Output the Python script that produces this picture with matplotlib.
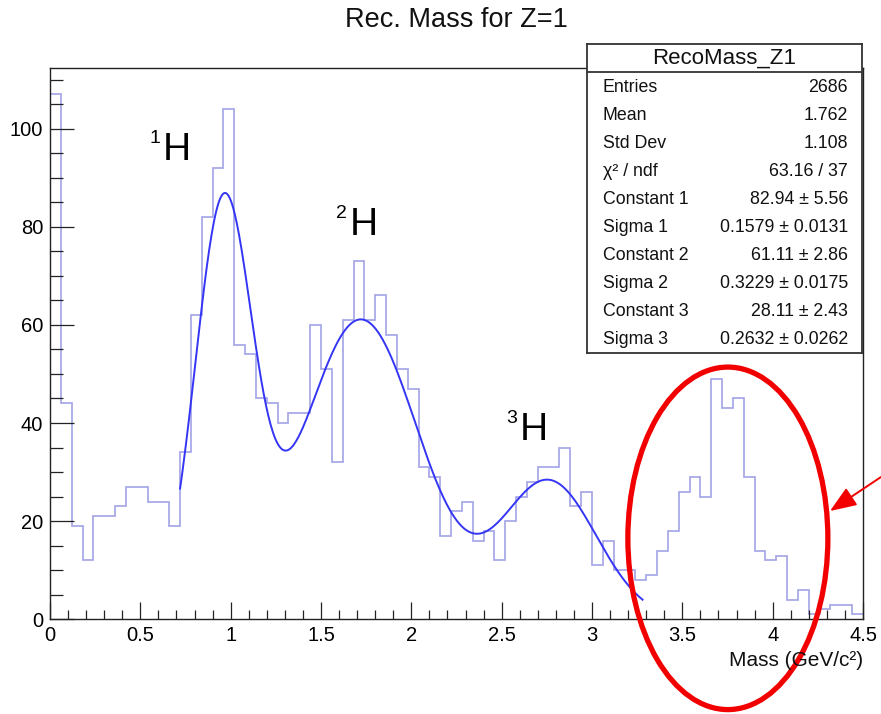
import numpy as np
import matplotlib
matplotlib.use("Agg")
import matplotlib.pyplot as plt
from matplotlib.patches import Ellipse
from matplotlib.ticker import MultipleLocator

plt.rcParams['font.family'] = ['Liberation Sans', 'DejaVu Sans']

# Histogram: 75 bins of 0.06 GeV/c^2 from 0 to 4.5
bin_lo, bin_hi, n_bins = 0.0, 4.5, 75
counts = [
    107, 44, 19, 12, 21, 21, 23, 27, 27, 24,
    24, 19, 34, 62, 82, 92, 104, 56, 54, 45,
    44, 40, 42, 42, 60, 51, 32, 61, 73, 61,
    66, 58, 51, 47, 31, 29, 17, 22, 24, 16,
    18, 12, 20, 25, 28, 31, 31, 35, 23, 26,
    11, 16, 10, 10, 8, 9, 14, 18, 26, 29,
    25, 49, 43, 45, 29, 14, 12, 13, 4, 6,
    1, 2, 3, 3, 1,
]

# Triple-gaussian fit results
fit_const = [82.94, 61.11, 28.11]
fit_mean = [0.96, 1.72, 2.76]
fit_sigma = [0.1579, 0.3229, 0.2632]
fit_range = (0.72, 3.28)

# Statistics box
stats_title = "RecoMass_Z1"
stats_names = ["Entries", "Mean", "Std Dev", "\u03c7\u00b2 / ndf",
               "Constant 1", "Sigma 1", "Constant 2", "Sigma 2",
               "Constant 3", "Sigma 3"]
stats_values = ["2686", "1.762", "1.108", "63.16 / 37",
                "82.94 \u00b1 5.56", "0.1579 \u00b1 0.0131",
                "61.11 \u00b1 2.86", "0.3229 \u00b1 0.0175",
                "28.11 \u00b1 2.43", "0.2632 \u00b1 0.0262"]

# Isotope labels: (mass number, label x, label y)
isotopes = [("1", 0.625, 93.7), ("2", 1.660, 78.4), ("3", 2.601, 36.6)]

W, H = 881, 714
fig = plt.figure(figsize=(W / 100, H / 100), dpi=100)
fig.patch.set_facecolor("white")


def fx(px):
    return px / W


def fy(py):
    return 1 - py / H


ax_l, ax_r, ax_t, ax_b = 50, 863, 68, 619.3
ax = fig.add_axes([fx(ax_l), fy(ax_b), fx(ax_r - ax_l), (ax_b - ax_t) / H])

edges = np.linspace(bin_lo, bin_hi, n_bins + 1)
ax.stairs(counts, edges, color="#a3a3e8", lw=1.2, baseline=None)


def triple_gauss(x):
    y = np.zeros_like(x)
    for c, m, s in zip(fit_const, fit_mean, fit_sigma):
        y += c * np.exp(-0.5 * ((x - m) / s) ** 2)
    return y


xf = np.linspace(fit_range[0], fit_range[1], 400)
ax.plot(xf, triple_gauss(xf), color="#3535f5", lw=1.4)

ax.set_xlim(bin_lo, bin_hi)
ax.set_ylim(0, 1.05 * max(counts))

ax.xaxis.set_major_locator(MultipleLocator(0.5))
ax.xaxis.set_minor_locator(MultipleLocator(0.1))
ax.yaxis.set_major_locator(MultipleLocator(20))
ax.yaxis.set_minor_locator(MultipleLocator(5))
ax.set_xticks(np.arange(0, 4.51, 0.5))
ax.set_xticklabels(["0", "0.5", "1", "1.5", "2", "2.5", "3", "3.5", "4", "4.5"])
ax.tick_params(axis="x", which="major", direction="in", length=12, width=0.9,
               color="#222222", labelsize=14.5, pad=5)
ax.tick_params(axis="x", which="minor", direction="in", length=6.3, width=0.9,
               color="#222222")
ax.tick_params(axis="y", which="major", direction="in", length=17, width=0.9,
               color="#222222", labelsize=14.5, pad=5)
ax.tick_params(axis="y", which="minor", direction="in", length=9, width=0.9,
               color="#222222")
for sp in ax.spines.values():
    sp.set_color("#222222")
    sp.set_linewidth(1.0)

fig.text(fx(863), fy(660), "Mass (GeV/c\u00b2)", ha="right", va="center",
         fontsize=15, color="#111111")
fig.text(fx(456), fy(20), "Rec. Mass for Z=1", ha="center", va="center",
         fontsize=19.5, color="#111111")

# Isotope labels
for a, x0, y0 in isotopes:
    ax.text(x0, y0, "H", ha="left", va="baseline", fontsize=28, color="black")
    ax.text(x0 - 0.015, y0 + 3.4, a, ha="right", va="baseline",
            fontsize=14, color="black")

# Statistics box
sb_l, sb_r, sb_t, sb_b = 587, 862, 44, 353
sb = fig.add_axes([fx(sb_l), fy(sb_b), fx(sb_r - sb_l), (sb_b - sb_t) / H])
sb.set_xticks([])
sb.set_yticks([])
sb.set_xlim(0, 1)
sb.set_ylim(0, 1)
sb.set_facecolor("white")
for sp in sb.spines.values():
    sp.set_color("#333333")
    sp.set_linewidth(1.3)
sbh = sb_b - sb_t


def sy(py):
    return (sb_b - py) / sbh


sb.axhline(sy(72), color="#333333", lw=1.3)
sb.text(0.5, sy(58), stats_title, ha="center", va="center", fontsize=16,
        color="#111111")
for i, (n, v) in enumerate(zip(stats_names, stats_values)):
    yy = sy(88 + 28 * i)
    sb.text(0.058, yy, n, ha="left", va="center", fontsize=12.8, color="#111111")
    sb.text(0.949, yy, v, ha="right", va="center", fontsize=12.8, color="#111111")

# Highlight of the high-mass structure
ell = Ellipse((3.752, 16.5), width=1.107, height=69.8, fill=False,
              edgecolor="#f20000", lw=3.8, clip_on=False, zorder=5)
ax.add_patch(ell)
ax.annotate("", xy=(830, H - 511), xytext=(881, H - 477),
            xycoords="figure pixels", textcoords="figure pixels",
            arrowprops=dict(arrowstyle="-|>,head_length=0.9,head_width=0.35",
                            color="#f20000", lw=1.4, mutation_scale=18,
                            shrinkA=0, shrinkB=0),
            annotation_clip=False)

fig.savefig("out.png", dpi=100)
